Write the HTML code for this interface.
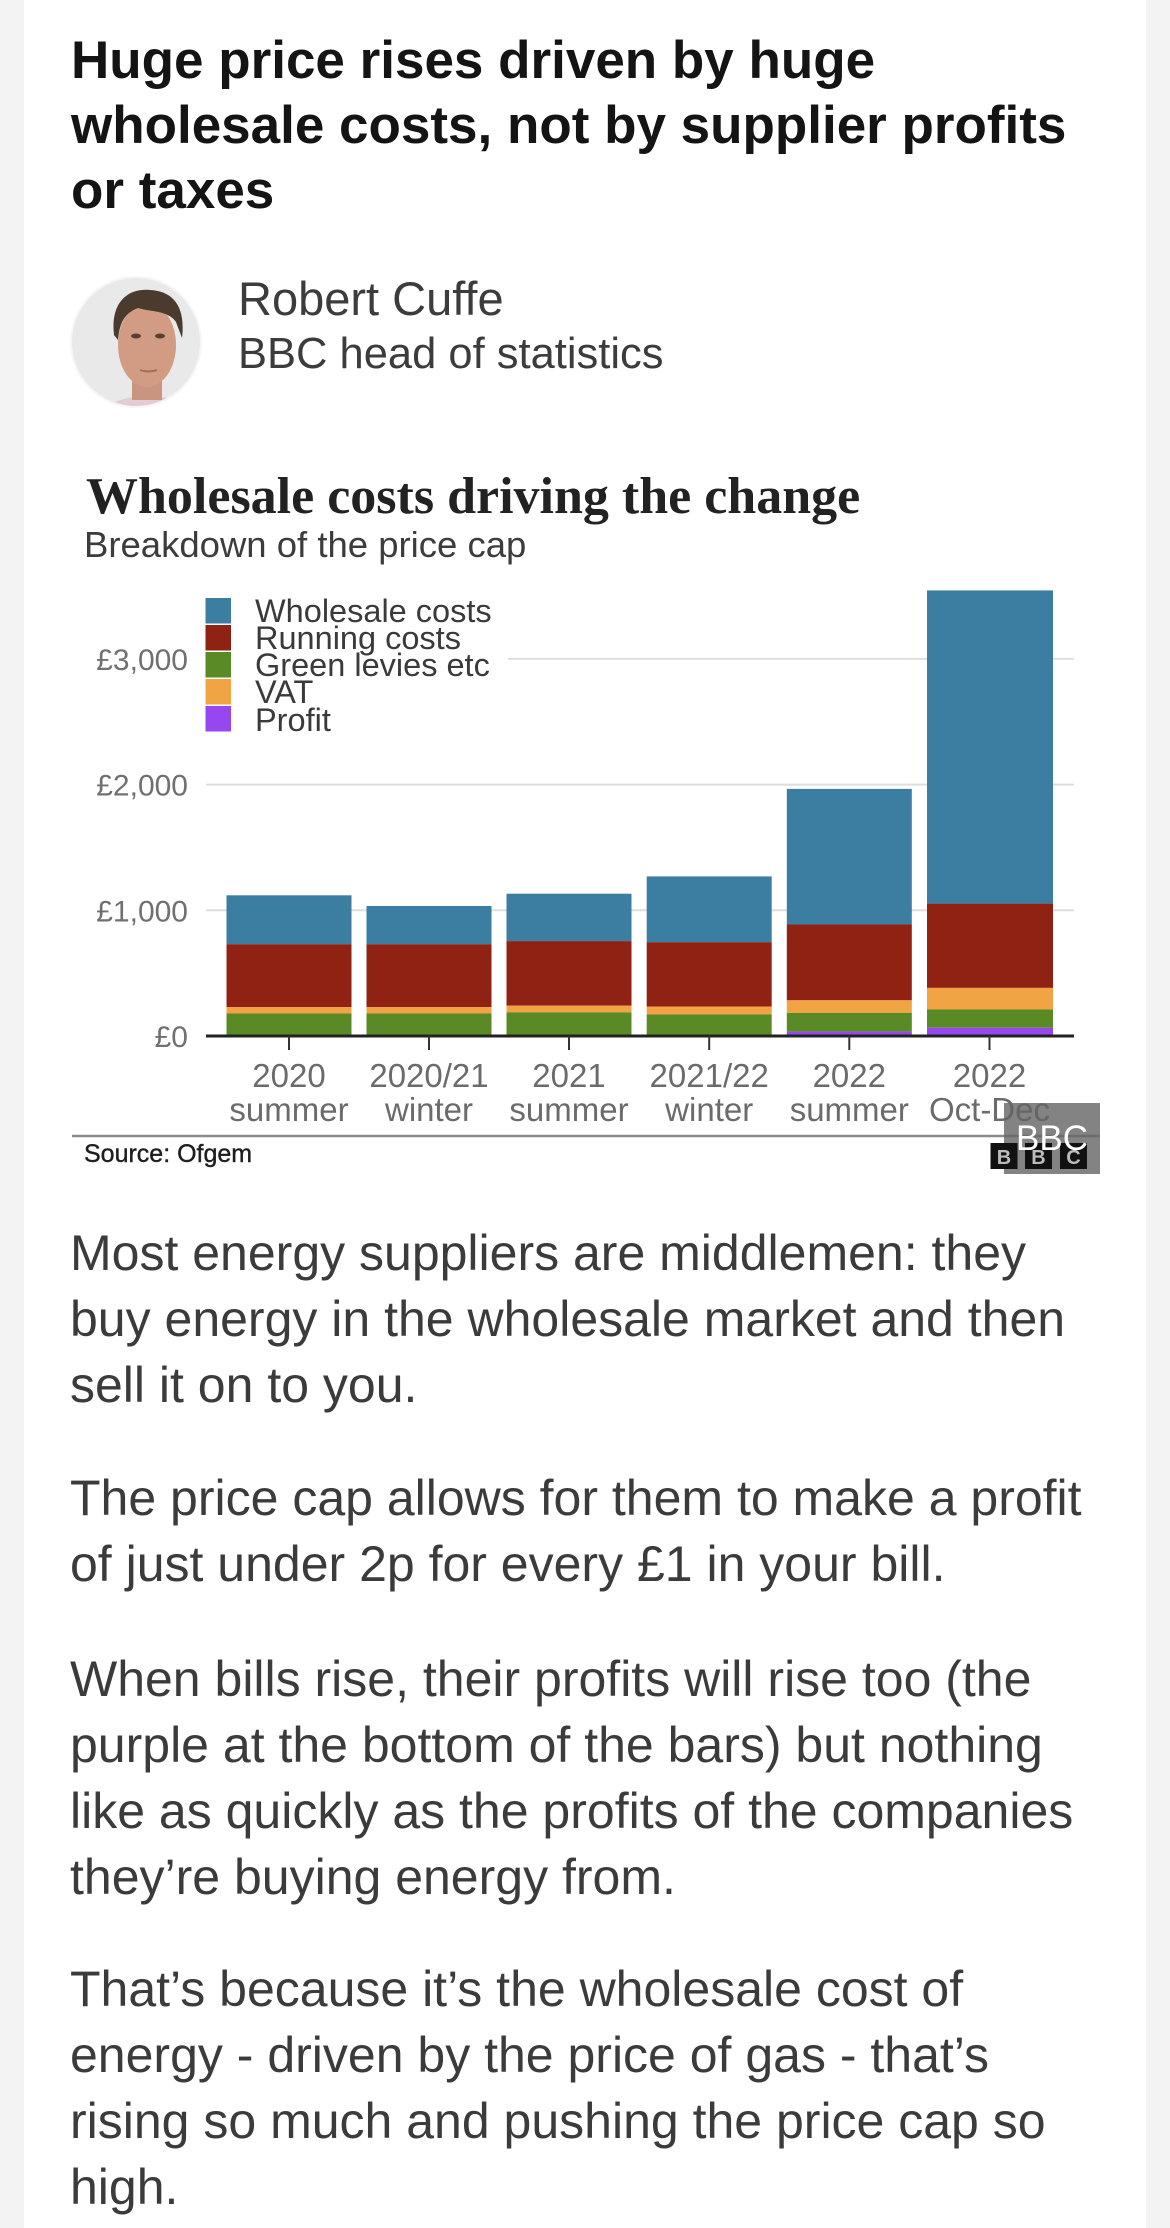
<!DOCTYPE html>
<html>
<head>
<meta charset="utf-8">
<style>
html,body{margin:0;padding:0;background:#f3f3f3;}
body{width:1170px;height:2228px;overflow:hidden;}
svg{display:block;}
.sans{font-family:"Liberation Sans",sans-serif;}
.serif{font-family:"Liberation Serif",serif;}
</style>
</head>
<body>
<svg width="1170" height="2228" viewBox="0 0 1170 2228" xmlns="http://www.w3.org/2000/svg">
  <!-- page -->
  <rect x="0" y="0" width="1170" height="2228" fill="#f3f3f3"/>
  <rect x="24" y="0" width="1122" height="2228" fill="#ffffff"/>

  <!-- Headline -->
  <g class="sans" font-weight="bold" font-size="53" fill="#141414">
    <text x="71" y="78">Huge price rises driven by huge</text>
    <text x="71" y="143">wholesale costs, not by supplier profits</text>
    <text x="71" y="208">or taxes</text>
  </g>

  <!-- Avatar -->
  <defs>
    <clipPath id="av"><circle cx="136" cy="342" r="64"/></clipPath>
  </defs>
  <circle cx="136" cy="342" r="66" fill="#f6f6f6"/>
  <g clip-path="url(#av)">
    <rect x="70" y="276" width="132" height="132" fill="#e9e9e9"/>
    <ellipse cx="147" cy="414" rx="42" ry="18" fill="#e3cdd3"/>
    <rect x="132" y="370" width="30" height="30" fill="#c99480"/>
    <ellipse cx="147" cy="345" rx="29" ry="42" fill="#d29c84"/>
    <path d="M114 335 C110 300 130 288 150 290 C172 291 186 305 182 338 L176 322 C168 310 150 312 138 308 C128 312 120 318 118 340 Z" fill="#4b3a2e"/>
    <ellipse cx="136" cy="336" rx="5" ry="2.5" fill="#5a4034"/>
    <ellipse cx="160" cy="336" rx="5" ry="2.5" fill="#5a4034"/>
    <path d="M140 370 Q148 373 157 370" stroke="#a86a5a" stroke-width="2" fill="none"/>
  </g>

  <!-- Author -->
  <g class="sans" fill="#3c3c3c">
    <text x="238" y="315" font-size="47">Robert Cuffe</text>
    <text x="238" y="368" font-size="43.5">BBC head of statistics</text>
  </g>

  <!-- Chart titles -->
  <text class="serif" x="86" y="513" font-size="52" font-weight="bold" fill="#222">Wholesale costs driving the change</text>
  <text class="sans" x="84" y="557" font-size="36.5" fill="#3c3c3c">Breakdown of the price cap</text>

  <!-- Gridlines -->
  <g stroke="#dedede" stroke-width="2">
    <line x1="206" y1="910.3" x2="1074" y2="910.3"/>
    <line x1="206" y1="784.6" x2="1074" y2="784.6"/>
    <line x1="508" y1="658.9" x2="1074" y2="658.9"/>
  </g>

  <!-- Y labels -->
  <g class="sans" font-size="30" fill="#707070" text-anchor="end">
    <text x="188" y="670">£3,000</text>
    <text x="188" y="795.6">£2,000</text>
    <text x="188" y="921.3">£1,000</text>
    <text x="188" y="1047">£0</text>
  </g>

  <!-- Bars -->
  <g>
    <rect x="226.5" y="895.3" width="125" height="48.9" fill="#3b7ea1"/>
    <rect x="226.5" y="944.2" width="125" height="63.0" fill="#8f2213"/>
    <rect x="226.5" y="1007.2" width="125" height="6.3" fill="#f0a443"/>
    <rect x="226.5" y="1013.5" width="125" height="22.5" fill="#5a8a26"/>

    <rect x="366.5" y="906.0" width="125" height="38.2" fill="#3b7ea1"/>
    <rect x="366.5" y="944.2" width="125" height="63.0" fill="#8f2213"/>
    <rect x="366.5" y="1007.2" width="125" height="6.3" fill="#f0a443"/>
    <rect x="366.5" y="1013.5" width="125" height="22.5" fill="#5a8a26"/>

    <rect x="506.5" y="893.7" width="125" height="47.4" fill="#3b7ea1"/>
    <rect x="506.5" y="941.1" width="125" height="64.6" fill="#8f2213"/>
    <rect x="506.5" y="1005.7" width="125" height="6.7" fill="#f0a443"/>
    <rect x="506.5" y="1012.4" width="125" height="23.6" fill="#5a8a26"/>

    <rect x="646.7" y="876.4" width="125" height="65.8" fill="#3b7ea1"/>
    <rect x="646.7" y="942.2" width="125" height="64.3" fill="#8f2213"/>
    <rect x="646.7" y="1006.5" width="125" height="7.9" fill="#f0a443"/>
    <rect x="646.7" y="1014.4" width="125" height="21.6" fill="#5a8a26"/>

    <rect x="786.8" y="788.9" width="125" height="135.5" fill="#3b7ea1"/>
    <rect x="786.8" y="924.4" width="125" height="75.9" fill="#8f2213"/>
    <rect x="786.8" y="1000.3" width="125" height="12.6" fill="#f0a443"/>
    <rect x="786.8" y="1012.9" width="125" height="18.7" fill="#5a8a26"/>
    <rect x="786.8" y="1031.6" width="125" height="4.4" fill="#9747ef"/>

    <rect x="927" y="590.4" width="126" height="313.2" fill="#3b7ea1"/>
    <rect x="927" y="903.6" width="126" height="84.3" fill="#8f2213"/>
    <rect x="927" y="987.9" width="126" height="21.6" fill="#f0a443"/>
    <rect x="927" y="1009.5" width="126" height="18.3" fill="#5a8a26"/>
    <rect x="927" y="1027.8" width="126" height="8.2" fill="#9747ef"/>
  </g>

  <!-- Axis -->
  <rect x="206" y="1034.5" width="868" height="3" fill="#222"/>
  <g stroke="#333" stroke-width="2">
    <line x1="289" y1="1036" x2="289" y2="1050"/>
    <line x1="429" y1="1036" x2="429" y2="1050"/>
    <line x1="569" y1="1036" x2="569" y2="1050"/>
    <line x1="709.2" y1="1036" x2="709.2" y2="1050"/>
    <line x1="849.3" y1="1036" x2="849.3" y2="1050"/>
    <line x1="989.5" y1="1036" x2="989.5" y2="1050"/>
  </g>

  <!-- X labels -->
  <g class="sans" font-size="33" fill="#6b6b6b" text-anchor="middle">
    <text x="289" y="1087">2020</text>
    <text x="289" y="1121">summer</text>
    <text x="429" y="1087">2020/21</text>
    <text x="429" y="1121">winter</text>
    <text x="569" y="1087">2021</text>
    <text x="569" y="1121">summer</text>
    <text x="709.2" y="1087">2021/22</text>
    <text x="709.2" y="1121">winter</text>
    <text x="849.3" y="1087">2022</text>
    <text x="849.3" y="1121">summer</text>
    <text x="989.5" y="1087">2022</text>
    <text x="989.5" y="1121">Oct-Dec</text>
  </g>

  <!-- Legend -->
  <rect x="200" y="590" width="308" height="148" fill="#ffffff"/>
  <rect x="205.5" y="598" width="25.5" height="25.5" fill="#3b7ea1"/>
  <rect x="205.5" y="625" width="25.5" height="25.5" fill="#8f2213"/>
  <rect x="205.5" y="652" width="25.5" height="25.5" fill="#5a8a26"/>
  <rect x="205.5" y="679" width="25.5" height="25.5" fill="#f0a443"/>
  <rect x="205.5" y="706" width="25.5" height="25.5" fill="#9747ef"/>
  <g class="sans" font-size="32.5" fill="#3a3a3a">
    <text x="255" y="622">Wholesale costs</text>
    <text x="255" y="649">Running costs</text>
    <text x="255" y="676">Green levies etc</text>
    <text x="255" y="703">VAT</text>
    <text x="255" y="731">Profit</text>
  </g>

  <!-- Divider & source -->
  <line x1="72" y1="1136" x2="1100" y2="1136" stroke="#8a8a8a" stroke-width="2.5"/>
  <text class="sans" x="84" y="1162" font-size="25" fill="#1e1e1e" stroke="#1e1e1e" stroke-width="0.4">Source: Ofgem</text>

  <!-- BBC watermark -->
  <rect x="1004" y="1103" width="96" height="71" fill="rgba(100,100,100,0.8)"/>
  <g>
    <rect x="990.5" y="1143" width="27" height="26" fill="#111"/>
    <rect x="1025" y="1143" width="27" height="26" fill="#111"/>
    <rect x="1060" y="1143" width="27" height="26" fill="#111"/>
    <g class="sans" font-size="20" font-weight="bold" fill="#bbb" text-anchor="middle">
      <text x="1004" y="1164">B</text>
      <text x="1038.5" y="1164">B</text>
      <text x="1073.5" y="1164">C</text>
    </g>
  </g>
  <text class="sans" x="1016" y="1150" font-size="35" fill="#ffffff">BBC</text>

  <!-- Body text -->
  <g class="sans" font-size="50" fill="#3b3b3b">
    <text x="70" y="1270">Most energy suppliers are middlemen: they</text>
    <text x="70" y="1336">buy energy in the wholesale market and then</text>
    <text x="70" y="1402">sell it on to you.</text>

    <text x="70" y="1515">The price cap allows for them to make a profit</text>
    <text x="70" y="1581">of just under 2p for every £1 in your bill.</text>

    <text x="70" y="1696">When bills rise, their profits will rise too (the</text>
    <text x="70" y="1762">purple at the bottom of the bars) but nothing</text>
    <text x="70" y="1828">like as quickly as the profits of the companies</text>
    <text x="70" y="1894">they’re buying energy from.</text>

    <text x="70" y="2006">That’s because it’s the wholesale cost of</text>
    <text x="70" y="2072">energy - driven by the price of gas - that’s</text>
    <text x="70" y="2138">rising so much and pushing the price cap so</text>
    <text x="70" y="2204">high.</text>
  </g>
</svg>
</body>
</html>
